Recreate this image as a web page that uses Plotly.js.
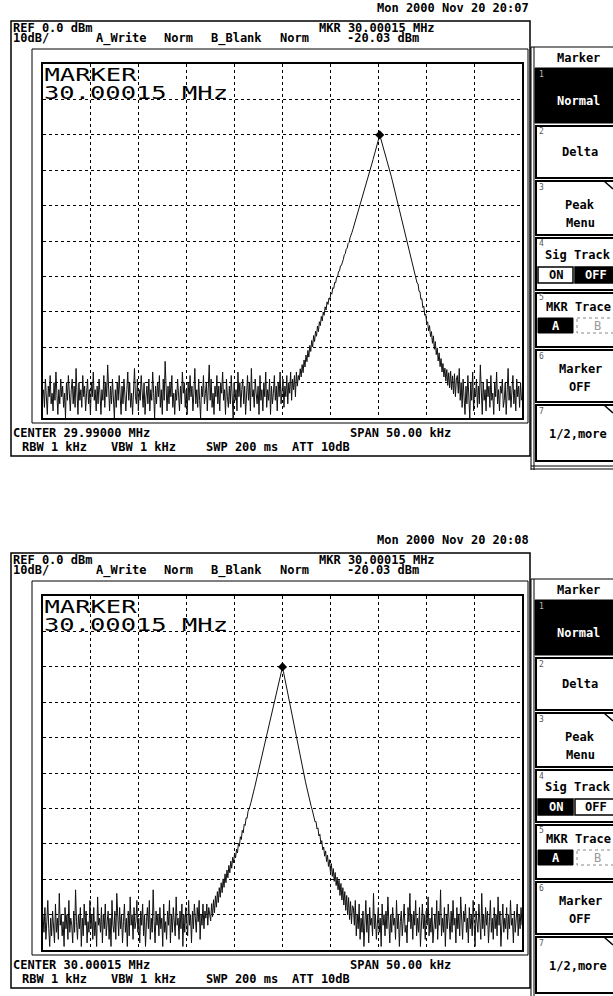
<!DOCTYPE html>
<html>
<head>
<meta charset="utf-8">
<script src="https://cdn.plot.ly/plotly-3.0.1.min.js"></script>
<style>html,body{margin:0;padding:0;background:#fff;}#chart{width:613px;height:996px;}</style>
</head>
<body>
<div id="chart"></div>
<script>
// ---------------- data ----------------
const spanMHz = 0.05;
const sweepStepMHz = 0.0001;
const refLevel_dBm = 0;
const dbPerDiv = 10;
const topStartMHz = 29.96505;    // CENTER 29.99000 MHz, SPAN 50 kHz
const bottomStartMHz = 29.97515; // CENTER 30.00015 MHz, SPAN 50 kHz
const topAxisStartMHz = 29.965;
const bottomAxisStartMHz = 29.97515;
const markerFreqMHz = 30.00015;
const markerLevel_dBm = -20.03;

const topTrace_dBm = [
-92,-97,-89,-95,-99,-91,-94,-88,-96,-93,
-98,-90,-95,-87,-93,-99,-92,-96,-89,-94,
-91,-97,-93,-100,-90,-95,-88,-94,-98,-92,
-89,-96,-91,-97,-86,-93,-99,-90,-95,-92,
-97,-88,-94,-91,-98,-93,-89,-96,-92,-99,
-90,-94,-87,-95,-92,-98,-91,-96,-89,-93,
-99,-92,-95,-88,-97,-90,-94,-85,-93,-98,
-91,-96,-89,-94,-100,-92,-97,-90,-95,-88,
-93,-99,-91,-96,-89,-94,-98,-92,-87,-95,
-90,-97,-93,-99,-91,-86,-94,-96,-89,-98,
-92,-95,-88,-93,-97,-90,-99,-94,-91,-96,
-89,-98,-92,-95,-87,-93,-100,-91,-96,-90,
-94,-88,-97,-92,-99,-89,-95,-84,-93,-98,
-91,-96,-90,-94,-88,-97,-93,-99,-92,-95,
-89,-94,-98,-91,-96,-87,-93,-90,-97,-92,
-99,-90,-95,-88,-94,-91,-98,-93,-86,-96,
-92,-97,-89,-95,-100,-91,-94,-88,-96,-93,
-90,-98,-92,-85,-95,-89,-97,-93,-99,-91,
-94,-88,-96,-91,-98,-90,-93,-87,-95,-92,
-99,-89,-94,-97,-91,-96,-88,-93,-100,-90,
-95,-92,-98,-87,-94,-90,-97,-92,-89,-96,
-91,-99,-93,-88,-95,-90,-98,-86,-94,-92,
-97,-89,-93,-96,-91,-99,-88,-95,-92,-98,
-90,-94,-87,-97,-92,-95,-89,-99,-91,-96,
-93,-88,-95,-91,-98,-90,-94,-87,-96,-92,
-89,-97,-91,-94,-88,-96,-90,-93,-87,-95,
-89,-92,-88,-94,-87,-91,-88,
-89.3,-86.1,-88.4,-84.9,-87.2,-83.6,-85.6,-82.2,-84.1,-80.9,
-82.8,-79.5,-81.2,-78.1,-79.9,-76.7,-78.4,-75.5,-76.9,-74.0,
-75.6,-72.8,-73.9,-71.3,-72.6,-70.1,-71.0,-68.6,-69.5,-67.2,
-67.9,-66.1,-66.5,-64.7,-65.0,-63.2,-63.4,-61.7,-61.8,-60.2,
-60.1,-58.6,-58.5,-57.0,-56.9,-55.5,-55.2,-53.9,-53.6,-52.3,
-52.0,-50.7,-50.4,-49.1,
-48.5,-47.6,-46.7,-45.8,-44.9,-44.0,-43.1,-42.2,-41.3,-40.4,-39.5,-38.6,-37.7,-36.8,-35.9,
-35.0,-34.0,-33.0,-32.0,-31.0,-30.0,-29.0,-28.0,-27.0,-26.0,-25.0,-24.0,-23.0,-22.0,-21.0,
-20.03,
-21.0,-21.9,-22.9,-23.8,-24.8,-25.7,-26.7,-27.6,-28.6,-29.5,
-30.6,-31.7,-32.8,-33.9,-35.0,-36.1,-37.2,-38.3,-39.4,-40.5,
-41.6,-42.7,-43.8,-44.9,-46.0,-47.1,-48.2,-49.3,-50.4,-51.5,
-52.6,-53.7,-54.8,-55.9,-57.0,
-57.8,-59.6,-60.0,-61.9,-62.1,-64.2,-64.3,-66.5,-66.3,-68.8,-68.4,-71.0,-70.6,-73.3,-72.8,
-75.4,-73.9,-77.0,-75.6,-78.9,-76.8,-80.6,-78.4,-82.1,-80.2,-83.9,-81.6,-85.5,-83.2,-87.0,
-84.6,-88.4,-85.9,-89.6,-86.3,-90.8,-87.2,-91.5,-86.8,-92.0,-88.1,-93.2,-87.5,-94.0,-89.0,
-88,-93,-86,-95,-90,-97,-89,-94,-99,-91,
-96,-88,-93,-100,-90,-95,-87,-98,-92,-94,
-89,-97,-91,-96,-85,-93,-99,-90,-95,-92,
-98,-89,-94,-91,-97,-88,-95,-93,-99,-90,
-94,-87,-96,-92,-98,-91,-93,-89,-97,-95,
-90,-99,-92,-86,-95,-91,-97,-93,-88,-96,
-92,-98,-89,-94,-91,-97,-90,-95
];

const bottomTrace_dBm = [
-90,-95,-88,-97,-92,-86,-94,-99,-91,-96,
-89,-93,-98,-87,-95,-91,-97,-84,-93,-90,
-96,-92,-99,-88,-94,-90,-97,-86,-95,-91,
-93,-98,-89,-95,-83,-92,-97,-90,-94,-88,
-99,-91,-96,-87,-93,-89,-98,-92,-95,-86,
-94,-90,-97,-88,-96,-92,-99,-85,-93,-91,
-95,-88,-98,-90,-94,-87,-96,-92,-89,-97,
-91,-99,-86,-93,-95,-89,-97,-84,-92,-96,
-88,-94,-90,-98,-92,-87,-95,-91,-99,-89,
-96,-85,-93,-90,-97,-88,-94,-92,-86,-95,
-91,-98,-89,-93,-87,-96,-90,-99,-92,-88,
-94,-86,-97,-91,-95,-83,-92,-98,-89,-93,
-90,-96,-88,-94,-91,-99,-87,-95,-92,-97,
-89,-93,-86,-98,-90,-95,-88,-92,-96,-85,
-93,-91,-97,-89,-94,-87,-99,-90,-95,-88,
-92,-96,-86,-93,-90,-98,-89,-94,-87,-91,
-95,-88,-92,-86,-97,-90,-93,-87,-94,-89,
-91,-87,-93,-88,-90,
-91.8,-86.9,-90.6,-85.8,-89.5,-84.7,-87.9,-83.5,-86.6,-82.4,
-85.1,-81.0,-83.8,-79.9,-82.3,-78.5,-81.0,-77.4,-79.6,-76.1,
-78.2,-74.9,-76.9,-73.8,-75.4,-72.6,-74.0,-71.5,
-72.6,-69.9,-70.7,-68.0,-68.8,-66.2,-66.9,-64.5,-64.8,-62.7,-62.8,-60.9,
-60.3,-59.4,-58.4,
-57.5,-56.3,-55.1,-54.0,-52.8,-51.6,-50.5,-49.3,-48.1,-46.9,-45.8,-44.6,
-43.4,-42.3,-41.1,-39.9,-38.8,-37.6,-36.4,-35.2,-34.1,-32.9,-31.7,-30.6,-29.4,-28.2,-27.0,-25.9,-24.7,-23.5,-22.4,-21.2,
-20.03,
-21.4,-22.8,-24.2,-25.6,-26.9,-28.3,-29.7,-31.1,-32.4,-33.8,-35.2,-36.6,-37.9,-39.3,-40.7,-42.1,-43.5,
-44.8,-46.1,-47.3,-48.6,-49.9,-51.2,-52.5,-53.7,-55.0,-56.3,-57.6,
-58.5,-59.5,-60.4,-61.4,
-62.0,-63.8,-63.7,-65.8,-65.5,-67.8,-67.3,-69.8,-69.1,-71.7,-70.9,
-73.5,-72.0,-75.0,-73.2,-76.4,-74.5,-77.9,-75.6,-79.2,-77.0,-80.6,-78.1,-81.8,
-79.4,-83.0,-80.3,-84.6,-81.2,-85.9,-82.4,-87.3,-83.5,-88.8,-84.6,-90.1,-85.2,-91.4,-86.3,-92.6,-87.5,
-88,-93,-86,-96,-90,-94,-87,-97,-91,-95,
-89,-99,-92,-86,-95,-90,-98,-88,-93,-91,
-96,-84,-94,-90,-97,-92,-88,-95,-91,-99,
-87,-93,-90,-96,-89,-94,-85,-92,-98,-90,
-95,-88,-93,-91,-97,-86,-94,-90,-99,-92,
-89,-96,-91,-87,-95,-93,-98,-88,-92,-84,
-94,-90,-97,-89,-93,-86,-96,-91,-95,-88,
-99,-92,-87,-94,-90,-97,-89,-93,-85,-96,
-91,-95,-88,-98,-92,-90,-94,-86,-97,-89,
-93,-83,-96,-91,-95,-88,-99,-90,-94,-87,
-92,-97,-89,-95,-86,-93,-91,-98,-88,-94,
-90,-96,-85,-93,-97,-89,-92,-87,-95,-91,
-98,-88,-94,-90,-96,-86,-93,-99,-89,-92,
-95,-87,-91,-97,-84,-94,-90,-96,-88,-93,
-89,-98,-92,-86,-95,-91,-97,-88,-94,-90,
-96,-85,-93,-89,-99,-92,-87,-95,-91,-94,
-88,-97,-90,-94,-86,-93,-91,-98,-89,-95,
-92,-87,-96,-90,-94,-88,-93
];

const dateLabels = ['Mon 2000 Nov 20 20:07', 'Mon 2000 Nov 20 20:08'];
const centerLabels = ['CENTER 29.99000 MHz', 'CENTER 30.00015 MHz'];
const sigTrackOn = [false, true];

// ---------------- layout helpers ----------------
const W = 613, H = 996;
const X = v => v / W, Y = v => 1 - v / H;
const FONT = 'DejaVu Sans Mono';
const offsets = [0, 532];

const shapes = [];
const annotations = [];

function rect(x0, y0, x1, y1, o) {
  o = o || {};
  shapes.push({type:'rect', xref:'paper', yref:'paper', x0:X(x0), x1:X(x1), y0:Y(y0), y1:Y(y1),
    line:{color:o.lc || '#000', width:o.lw === undefined ? 1 : o.lw, dash:o.dash || 'solid'},
    fillcolor:o.fill || 'rgba(0,0,0,0)', layer:o.layer || 'above'});
}
function line(x0, y0, x1, y1, o) {
  o = o || {};
  shapes.push({type:'line', xref:'paper', yref:'paper', x0:X(x0), x1:X(x1), y0:Y(y0), y1:Y(y1),
    line:{color:o.lc || '#000', width:o.lw || 1}, layer:'above'});
}
function txt(x, y, s, o) {
  o = o || {};
  annotations.push({xref:'paper', yref:'paper', x:X(x), y:Y(y), text:s, showarrow:false,
    xanchor:o.xa || 'left', yanchor:'middle', borderpad:0,
    font:{family:o.family || FONT, size:o.size || 12, color:o.color || '#000', weight:o.weight || 'bold'}});
}

function screen(i) {
  const O = offsets[i];
  // frames
  rect(11, O + 21, 530, O + 456, {lw:1.5});
  rect(32, O + 49, 528, O + 423, {lw:1});
  // header texts
  txt(530, O + 8, dateLabels[i], {xa:'right'});
  txt(12, O + 28, 'REF 0.0 dBm');
  txt(318, O + 28, 'MKR ' + markerFreqMHz.toFixed(5) + ' MHz');
  txt(12, O + 38, '10dB/');
  txt(95, O + 38, 'A_Write');
  txt(163, O + 38, 'Norm');
  txt(210, O + 38, 'B_Blank');
  txt(279, O + 38, 'Norm');
  txt(346, O + 38, markerLevel_dBm.toFixed(2) + ' dBm');
  // marker readout
  txt(90, O + 74, 'MARKER', {xa:'center', size:18, weight:'normal'});
  txt(136, O + 92, markerFreqMHz.toFixed(5) + ' MHz', {xa:'center', size:18, weight:'normal'});
  // bottom texts
  txt(12, O + 433, centerLabels[i]);
  txt(349, O + 433, 'SPAN 50.00 kHz');
  txt(21, O + 447, 'RBW 1 kHz');
  txt(110, O + 447, 'VBW 1 kHz');
  txt(205, O + 447, 'SWP 200 ms');
  txt(291, O + 447, 'ATT 10dB');

  // softkey panel
  line(531, O + 47, 531, O + 470, {lw:1});
  line(534, O + 47, 534, O + 470, {lw:1});
  line(531, O + 47, 613, O + 47, {lw:1});
  line(531, O + 466, 613, O + 466, {lw:1});
  line(531, O + 469, 613, O + 469, {lw:1});
  txt(578, O + 58, 'Marker', {xa:'center'});
  // 1 Normal
  rect(535, O + 68, 615, O + 123, {fill:'#000', lw:1});
  txt(538, O + 74, '1', {size:8, color:'#bbb', weight:'normal'});
  txt(578, O + 101, 'Normal', {xa:'center', color:'#fff'});
  // 2 Delta
  rect(536, O + 126, 615, O + 178, {lw:2});
  txt(538, O + 132, '2', {size:8, color:'#555', weight:'normal'});
  txt(580, O + 152, 'Delta', {xa:'center'});
  // 3 Peak Menu
  rect(536, O + 181, 615, O + 235, {lw:2});
  line(604, O + 181, 613, O + 189, {lw:1.5});
  txt(538, O + 187, '3', {size:8, color:'#555', weight:'normal'});
  txt(580, O + 205, 'Peak', {xa:'center'});
  txt(580, O + 223, 'Menu', {xa:'center'});
  // 4 Sig Track
  rect(536, O + 238, 615, O + 290, {lw:2});
  txt(538, O + 244, '4', {size:8, color:'#555', weight:'normal'});
  txt(578, O + 255, 'Sig Track', {xa:'center'});
  rect(538, O + 267, 573, O + 283, {lw:1.5, fill: sigTrackOn[i] ? '#000' : '#fff'});
  rect(575, O + 267, 615, O + 283, {lw:1.5, fill: sigTrackOn[i] ? '#fff' : '#000'});
  txt(555.5, O + 275, 'ON', {xa:'center', color: sigTrackOn[i] ? '#fff' : '#000'});
  txt(596, O + 275, 'OFF', {xa:'center', color: sigTrackOn[i] ? '#000' : '#fff'});
  // 5 MKR Trace
  rect(536, O + 293, 615, O + 347, {lw:2});
  txt(538, O + 298, '5', {size:8, color:'#555', weight:'normal'});
  txt(578, O + 307, 'MKR Trace', {xa:'center'});
  rect(538, O + 318, 573, O + 333, {lw:1, fill:'#000'});
  txt(555.5, O + 325.5, 'A', {xa:'center', color:'#fff'});
  rect(577, O + 318, 615, O + 333, {lw:1, lc:'#888', dash:'dot'});
  txt(597, O + 325.5, 'B', {xa:'center', color:'#999', weight:'normal'});
  // 6 Marker OFF
  rect(536, O + 350, 615, O + 402, {lw:2});
  txt(538, O + 356, '6', {size:8, color:'#555', weight:'normal'});
  txt(580, O + 369, 'Marker', {xa:'center'});
  txt(580, O + 387, 'OFF', {xa:'center'});
  // 7 1/2,more
  rect(536, O + 405, 615, O + 461, {lw:2});
  line(604, O + 405, 613, O + 413, {lw:1.5});
  txt(538, O + 411, '7', {size:8, color:'#555', weight:'normal'});
  txt(578, O + 434, '1/2,more', {xa:'center'});
}
screen(0);
screen(1);

function xAxis(start, anchor) {
  return {domain:[X(43), X(522)], range:[start, start + spanMHz], tick0:start, dtick:spanMHz / 10,
    showgrid:true, gridcolor:'#000', griddash:'dot', gridwidth:1, showticklabels:false, ticks:'',
    zeroline:false, showline:true, mirror:true, linecolor:'#000', linewidth:2, anchor:anchor, fixedrange:true};
}
function yAxis(O, anchor) {
  return {domain:[Y(O + 418), Y(O + 64)], range:[refLevel_dBm - 10 * dbPerDiv, refLevel_dBm], dtick:dbPerDiv,
    showgrid:true, gridcolor:'#000', griddash:'dot', gridwidth:1, showticklabels:false, ticks:'',
    zeroline:false, showline:true, mirror:true, linecolor:'#000', linewidth:2, anchor:anchor, fixedrange:true};
}

const data = [
  {type:'scatter', mode:'lines', x0:topStartMHz, dx:sweepStepMHz, y:topTrace_dBm, xaxis:'x', yaxis:'y',
   line:{color:'#111', width:1}, hoverinfo:'skip'},
  {type:'scatter', mode:'markers', x:[markerFreqMHz], y:[markerLevel_dBm], xaxis:'x', yaxis:'y',
   marker:{symbol:'diamond', size:7, color:'#000'}},
  {type:'scatter', mode:'lines', x0:bottomStartMHz, dx:sweepStepMHz, y:bottomTrace_dBm, xaxis:'x2', yaxis:'y2',
   line:{color:'#111', width:1}, hoverinfo:'skip'},
  {type:'scatter', mode:'markers', x:[markerFreqMHz], y:[markerLevel_dBm], xaxis:'x2', yaxis:'y2',
   marker:{symbol:'diamond', size:7, color:'#000'}}
];

const layout = {
  width:W, height:H, margin:{l:0, r:0, t:0, b:0}, showlegend:false,
  paper_bgcolor:'#fff', plot_bgcolor:'#fff',
  xaxis:xAxis(topAxisStartMHz, 'y'),
  yaxis:yAxis(offsets[0], 'x'),
  xaxis2:xAxis(bottomAxisStartMHz, 'y2'),
  yaxis2:yAxis(offsets[1], 'x2'),
  shapes:shapes, annotations:annotations
};

Plotly.newPlot('chart', data, layout, {staticPlot:true, displayModeBar:false}).then(function () {
  document.querySelectorAll('.annotation-text').forEach(function (t) {
    if (t.textContent === 'MARKER') { t.setAttribute('textLength', 92); t.setAttribute('lengthAdjust', 'spacingAndGlyphs'); }
    if (t.textContent === '30.00015 MHz') { t.setAttribute('textLength', 184); t.setAttribute('lengthAdjust', 'spacingAndGlyphs'); }
  });
});
</script>
</body>
</html>
